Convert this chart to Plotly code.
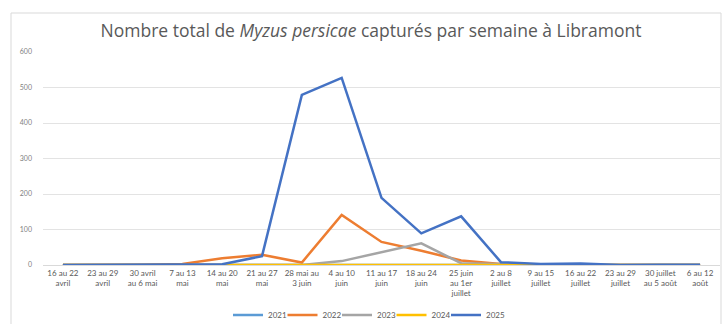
import plotly.graph_objects as go

# Semaines de piégeage (étiquettes de l'axe des catégories)
weeks = [
    "16 au 22<br>avril", "23 au 29<br>avril", "30 avril<br>au 6 mai", "7 au 13<br>mai",
    "14 au 20<br>mai", "21 au 27<br>mai", "28 mai au<br>3 juin", "4 au 10<br>juin",
    "11 au 17<br>juin", "18 au 24<br>juin", "25 juin<br>au 1er<br>juillet", "2 au 8<br>juillet",
    "9 au 15<br>juillet", "16 au 22<br>juillet", "23 au 29<br>juillet", "30 juillet<br>au 5 août",
    "6 au 12<br>août",
]

# Captures hebdomadaires de Myzus persicae par année
y2021 = [0, 0, 0, 0, 0, 0, 0, 0, 0, 0, 0, 0, 0, 0, 0, 0, 0]
y2022 = [0, 0, 1, 3, 19, 29, 7, 141, 65, 40, 13, 3, 0, 0, 0, 0, 0]
y2023 = [0, 0, 0, 0, 0, 0, 0, 11, 35, 61, 5, 2, 0, 0, 0, 0, 0]
y2024 = [0, 0, 0, 0, 1, 2, 2, 2, 2, 2, 2, 1, 0, 0, 0, 0, 0]
y2025 = [0, 0, 0, 0, 2, 25, 479, 527, 189, 89, 137, 8, 3, 4, 0, 1, 1]

years = ["2021", "2022", "2023", "2024", "2025"]
series = [y2021, y2022, y2023, y2024, y2025]
colors = ["#5B9BD5", "#ED7D31", "#A5A5A5", "#FFC000", "#4472C4"]

W, H = 722, 324
ML, MR, MT, MB = 43, 2, 52, 59
PW, PH = W - ML - MR, H - MT - MB


def px_x(p):
    return (p - ML) / PW


def px_y(p):
    return (H - MB - p) / PH


# One compact legend box per year, laid out side by side under the axis
LEG_X0, LEG_STEP, LEG_Y = 228, 54.5, 315
legend_ids = ["legend"] + [f"legend{i}" for i in range(2, len(years) + 1)]

fig = go.Figure()
for i, (name, vals, col) in enumerate(zip(years, series, colors)):
    fig.add_trace(go.Scatter(
        x=weeks, y=vals, name=name, mode="lines", showlegend=True,
        line=dict(color=col, width=2.5), legend=legend_ids[i],
    ))

legends = {}
for i, lid in enumerate(legend_ids):
    legends[lid] = dict(
        orientation="h", x=px_x(LEG_X0 + i * LEG_STEP), xanchor="left",
        y=px_y(LEG_Y), yanchor="middle",
        font=dict(size=8, color="#595959"), itemwidth=30,
        bgcolor="rgba(0,0,0,0)",
    )

fig.update_layout(
    width=W, height=H, showlegend=True,
    margin=dict(l=ML, r=MR, t=MT, b=MB, autoexpand=False),
    paper_bgcolor="white", plot_bgcolor="white",
    font=dict(family="Lato", color="#595959"),
    title=dict(
        text="Nombre total de <i>Myzus persicae</i> capturés par semaine à Libramont",
        x=371 / W, xanchor="center", y=1 - 31 / H, yanchor="middle",
        font=dict(size=17.5, color="#595959", family="Open Sans"),
    ),
    xaxis=dict(
        type="category", range=[-0.5, len(weeks) - 0.5], automargin=False,
        showgrid=False, showline=True, linecolor="#D9D9D9", linewidth=1,
        ticks="", tickfont=dict(size=8, color="#595959"), tickangle=0,
    ),
    yaxis=dict(
        range=[0, 600], dtick=100, showgrid=True, gridcolor="#E3E3E3", gridwidth=1,
        zeroline=False, showline=False, ticks="", automargin=False,
        tickfont=dict(size=7, color="#7F7F7F"), ticklabelstandoff=10,
    ),
    shapes=[dict(
        type="rect", xref="paper", yref="paper",
        x0=px_x(11), x1=px_x(721), y0=px_y(340), y1=px_y(13),
        line=dict(color="#D9D9D9", width=1), fillcolor="rgba(0,0,0,0)", layer="below",
    )],
    **legends,
)

fig.write_html("out.html")
